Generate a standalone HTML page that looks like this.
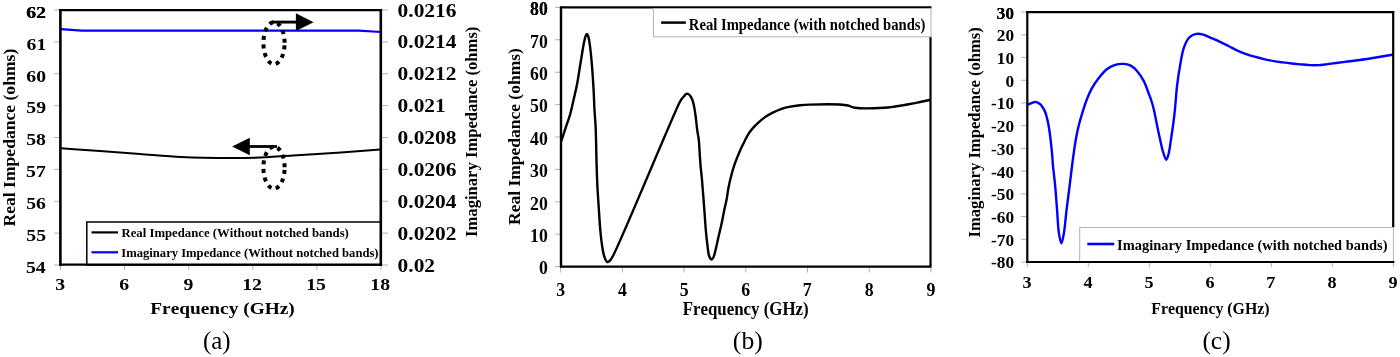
<!DOCTYPE html>
<html><head><meta charset="utf-8"><title>Impedance charts</title>
<style>html,body{margin:0;padding:0;background:#fff;width:1400px;height:357px;overflow:hidden}
svg{display:block;will-change:transform;font-family:"Liberation Serif",serif}
text{font-family:"Liberation Serif",serif;font-kerning:none}</style></head>
<body>
<svg width="1400" height="357" viewBox="0 0 1400 357" font-family="Liberation Serif" style="font-kerning:none">
<line x1="54.00" y1="10.00" x2="60.00" y2="10.00" stroke="#b0b0b0" stroke-width="1.00" />
<line x1="381.00" y1="10.00" x2="388.00" y2="10.00" stroke="#b0b0b0" stroke-width="1.00" />
<line x1="54.00" y1="41.88" x2="60.00" y2="41.88" stroke="#b0b0b0" stroke-width="1.00" />
<line x1="381.00" y1="41.88" x2="388.00" y2="41.88" stroke="#b0b0b0" stroke-width="1.00" />
<line x1="54.00" y1="73.75" x2="60.00" y2="73.75" stroke="#b0b0b0" stroke-width="1.00" />
<line x1="381.00" y1="73.75" x2="388.00" y2="73.75" stroke="#b0b0b0" stroke-width="1.00" />
<line x1="54.00" y1="105.62" x2="60.00" y2="105.62" stroke="#b0b0b0" stroke-width="1.00" />
<line x1="381.00" y1="105.62" x2="388.00" y2="105.62" stroke="#b0b0b0" stroke-width="1.00" />
<line x1="54.00" y1="137.50" x2="60.00" y2="137.50" stroke="#b0b0b0" stroke-width="1.00" />
<line x1="381.00" y1="137.50" x2="388.00" y2="137.50" stroke="#b0b0b0" stroke-width="1.00" />
<line x1="54.00" y1="169.38" x2="60.00" y2="169.38" stroke="#b0b0b0" stroke-width="1.00" />
<line x1="381.00" y1="169.38" x2="388.00" y2="169.38" stroke="#b0b0b0" stroke-width="1.00" />
<line x1="54.00" y1="201.25" x2="60.00" y2="201.25" stroke="#b0b0b0" stroke-width="1.00" />
<line x1="381.00" y1="201.25" x2="388.00" y2="201.25" stroke="#b0b0b0" stroke-width="1.00" />
<line x1="54.00" y1="233.12" x2="60.00" y2="233.12" stroke="#b0b0b0" stroke-width="1.00" />
<line x1="381.00" y1="233.12" x2="388.00" y2="233.12" stroke="#b0b0b0" stroke-width="1.00" />
<line x1="54.00" y1="265.00" x2="60.00" y2="265.00" stroke="#b0b0b0" stroke-width="1.00" />
<line x1="381.00" y1="265.00" x2="388.00" y2="265.00" stroke="#b0b0b0" stroke-width="1.00" />
<line x1="60.50" y1="265.00" x2="60.50" y2="270.00" stroke="#b0b0b0" stroke-width="1.00" />
<line x1="124.60" y1="265.00" x2="124.60" y2="270.00" stroke="#b0b0b0" stroke-width="1.00" />
<line x1="188.70" y1="265.00" x2="188.70" y2="270.00" stroke="#b0b0b0" stroke-width="1.00" />
<line x1="252.80" y1="265.00" x2="252.80" y2="270.00" stroke="#b0b0b0" stroke-width="1.00" />
<line x1="316.90" y1="265.00" x2="316.90" y2="270.00" stroke="#b0b0b0" stroke-width="1.00" />
<line x1="381.00" y1="265.00" x2="381.00" y2="270.00" stroke="#b0b0b0" stroke-width="1.00" />
<path d="M61.00 29.20 L81.70 30.70 L359.00 30.70 L381.00 32.00" fill="none" stroke="#0000ff" stroke-width="2.20" stroke-linejoin="round" stroke-linecap="round"/>
<path d="M61.00 148.30 C74.00 149.20 86.92 150.06 100.00 151.00 C113.25 151.96 126.58 153.01 140.00 154.00 C153.58 155.01 169.44 156.37 181.00 157.00 C189.46 157.46 194.11 157.64 203.00 157.80 C216.66 158.05 239.03 158.28 255.00 157.80 C268.66 157.39 279.59 156.32 293.00 155.50 C308.07 154.57 325.83 153.56 341.00 152.50 C354.68 151.55 367.00 150.50 380.00 149.50" fill="none" stroke="#000" stroke-width="2.00" stroke-linejoin="round" stroke-linecap="round"/>
<rect x="86.80" y="222.00" width="294.20" height="43.00" fill="#fff" stroke="#000" stroke-width="1.50"/>
<line x1="91.50" y1="232.40" x2="118.00" y2="232.40" stroke="#000" stroke-width="2.20" />
<line x1="91.50" y1="252.30" x2="118.00" y2="252.30" stroke="#0000ff" stroke-width="2.20" />
<line x1="60.40" y1="9.10" x2="60.40" y2="265.70" stroke="#000" stroke-width="2.60" />
<line x1="380.80" y1="9.10" x2="380.80" y2="265.70" stroke="#000" stroke-width="2.60" />
<line x1="59.10" y1="10.20" x2="382.10" y2="10.20" stroke="#000" stroke-width="2.20" />
<line x1="59.10" y1="264.60" x2="382.10" y2="264.60" stroke="#000" stroke-width="2.20" />
<line x1="272.00" y1="22.10" x2="297.00" y2="22.10" stroke="#000" stroke-width="2.90" />
<polygon points="295.9,13.2 313.6,22.2 295.9,30.9" fill="#000"/>
<line x1="249.00" y1="146.50" x2="277.00" y2="146.50" stroke="#000" stroke-width="2.80" />
<polygon points="249.8,137.7 232.1,146.4 249.8,155.2" fill="#000"/>
<ellipse cx="274" cy="43.1" rx="10.6" ry="21" fill="none" stroke="#000" stroke-width="4" stroke-dasharray="4 4.6" stroke-dashoffset="6.3"/>
<ellipse cx="274" cy="167.6" rx="10.6" ry="21" fill="none" stroke="#000" stroke-width="4" stroke-dasharray="4 4.6" stroke-dashoffset="6.3"/>
<text transform="translate(26.03 17.53) scale(1.1623 1)" font-size="16.97" font-weight="bold" fill="#000">62</text>
<text transform="translate(26.43 17.73) scale(1.1623 1)" font-size="16.97" font-weight="bold" fill="#000">62</text>
<text transform="translate(26.60 49.61) scale(1.1623 1)" font-size="16.97" font-weight="bold" fill="#000">61</text>
<text transform="translate(26.33 81.53) scale(1.1623 1)" font-size="16.97" font-weight="bold" fill="#000">60</text>
<text transform="translate(26.29 113.36) scale(1.1623 1)" font-size="16.97" font-weight="bold" fill="#000">59</text>
<text transform="translate(26.23 145.28) scale(1.1623 1)" font-size="16.97" font-weight="bold" fill="#000">58</text>
<text transform="translate(26.06 176.99) scale(1.1623 1)" font-size="16.97" font-weight="bold" fill="#000">57</text>
<text transform="translate(26.16 208.98) scale(1.1623 1)" font-size="16.97" font-weight="bold" fill="#000">56</text>
<text transform="translate(26.30 240.74) scale(1.1623 1)" font-size="16.97" font-weight="bold" fill="#000">55</text>
<text transform="translate(25.94 272.67) scale(1.1623 1)" font-size="16.97" font-weight="bold" fill="#000">54</text>
<text transform="translate(397.58 16.54) scale(1.1647 1)" font-size="18.40" font-weight="bold" fill="#000">0.0216</text>
<text transform="translate(397.58 48.46) scale(1.1647 1)" font-size="18.40" font-weight="bold" fill="#000">0.0214</text>
<text transform="translate(397.58 80.34) scale(1.1647 1)" font-size="18.40" font-weight="bold" fill="#000">0.0212</text>
<text transform="translate(397.58 112.21) scale(1.1647 1)" font-size="18.40" font-weight="bold" fill="#000">0.021</text>
<text transform="translate(397.58 144.09) scale(1.1647 1)" font-size="18.40" font-weight="bold" fill="#000">0.0208</text>
<text transform="translate(397.58 175.96) scale(1.1647 1)" font-size="18.40" font-weight="bold" fill="#000">0.0206</text>
<text transform="translate(397.58 207.84) scale(1.1647 1)" font-size="18.40" font-weight="bold" fill="#000">0.0204</text>
<text transform="translate(397.58 239.71) scale(1.1647 1)" font-size="18.40" font-weight="bold" fill="#000">0.0202</text>
<text transform="translate(397.58 271.59) scale(1.1647 1)" font-size="18.40" font-weight="bold" fill="#000">0.02</text>
<text transform="translate(55.14 290.23) scale(1.1623 1)" font-size="16.97" font-weight="bold" fill="#000">3</text>
<text transform="translate(119.22 290.23) scale(1.1623 1)" font-size="16.97" font-weight="bold" fill="#000">6</text>
<text transform="translate(183.46 290.23) scale(1.1623 1)" font-size="16.97" font-weight="bold" fill="#000">9</text>
<text transform="translate(242.17 290.23) scale(1.1623 1)" font-size="16.97" font-weight="bold" fill="#000">12</text>
<text transform="translate(306.21 290.20) scale(1.1623 1)" font-size="16.97" font-weight="bold" fill="#000">15</text>
<text transform="translate(370.28 290.28) scale(1.1623 1)" font-size="16.97" font-weight="bold" fill="#000">18</text>
<text transform="translate(150.27 314.37) scale(1.1323 1)" font-size="17.10" font-weight="bold" fill="#000">Frequency (GHz)</text>
<text transform="translate(15.15 226.50) rotate(-90) scale(1.0852 1)" font-size="16.21" font-weight="bold">Real Impedance (ohms)</text>
<text transform="translate(477.30 236.96) rotate(-90) scale(1.0071 1)" font-size="16.50" font-weight="bold">Imaginary Impedance (ohms)</text>
<text transform="translate(121.48 237.27) scale(1.0576 1)" font-size="12.07" font-weight="bold" fill="#000">Real Impedance (Without notched bands)</text>
<text transform="translate(121.27 256.97) scale(1.0600 1)" font-size="11.91" font-weight="bold" fill="#000">Imaginary Impedance (Without notched bands)</text>
<text transform="translate(202.90 349.34) scale(1.0100 1)" font-size="24.70" font-weight="normal" fill="#000">(a)</text>
<line x1="555.00" y1="7.40" x2="561.00" y2="7.40" stroke="#b0b0b0" stroke-width="1.00" />
<line x1="555.00" y1="39.80" x2="561.00" y2="39.80" stroke="#b0b0b0" stroke-width="1.00" />
<line x1="555.00" y1="72.20" x2="561.00" y2="72.20" stroke="#b0b0b0" stroke-width="1.00" />
<line x1="555.00" y1="104.60" x2="561.00" y2="104.60" stroke="#b0b0b0" stroke-width="1.00" />
<line x1="555.00" y1="137.00" x2="561.00" y2="137.00" stroke="#b0b0b0" stroke-width="1.00" />
<line x1="555.00" y1="169.40" x2="561.00" y2="169.40" stroke="#b0b0b0" stroke-width="1.00" />
<line x1="555.00" y1="201.80" x2="561.00" y2="201.80" stroke="#b0b0b0" stroke-width="1.00" />
<line x1="555.00" y1="234.20" x2="561.00" y2="234.20" stroke="#b0b0b0" stroke-width="1.00" />
<line x1="555.00" y1="266.60" x2="561.00" y2="266.60" stroke="#b0b0b0" stroke-width="1.00" />
<line x1="560.70" y1="266.60" x2="560.70" y2="272.50" stroke="#b0b0b0" stroke-width="1.00" />
<line x1="622.40" y1="266.60" x2="622.40" y2="272.50" stroke="#b0b0b0" stroke-width="1.00" />
<line x1="684.10" y1="266.60" x2="684.10" y2="272.50" stroke="#b0b0b0" stroke-width="1.00" />
<line x1="745.80" y1="266.60" x2="745.80" y2="272.50" stroke="#b0b0b0" stroke-width="1.00" />
<line x1="807.50" y1="266.60" x2="807.50" y2="272.50" stroke="#b0b0b0" stroke-width="1.00" />
<line x1="869.20" y1="266.60" x2="869.20" y2="272.50" stroke="#b0b0b0" stroke-width="1.00" />
<line x1="930.90" y1="266.60" x2="930.90" y2="272.50" stroke="#b0b0b0" stroke-width="1.00" />
<path d="M561.50 140.50 C563.07 135.73 564.70 130.73 566.20 126.20 C567.56 122.10 568.89 118.76 570.10 114.50 C571.52 109.50 572.79 103.28 574.00 98.00 C575.11 93.15 576.13 89.04 577.10 84.00 C578.22 78.16 579.31 70.47 580.20 65.00 C580.88 60.84 581.39 57.62 582.00 54.00 C582.59 50.46 583.15 46.64 583.80 43.50 C584.33 40.92 584.83 38.21 585.50 36.50 C585.92 35.42 586.43 34.00 586.90 34.00 C587.37 34.00 587.90 35.39 588.30 36.50 C588.98 38.39 589.35 41.60 589.80 44.60 C590.35 48.29 590.79 52.81 591.20 57.00 C591.62 61.28 591.94 65.20 592.30 70.00 C592.75 75.95 593.23 83.33 593.60 90.00 C593.97 96.66 594.14 103.71 594.50 110.00 C594.82 115.63 595.33 120.58 595.60 126.00 C595.87 131.58 595.94 136.97 596.10 143.00 C596.28 149.86 596.37 157.59 596.60 165.00 C596.83 172.58 597.11 180.42 597.50 188.00 C597.88 195.42 598.42 202.84 598.90 210.00 C599.36 216.83 599.73 223.82 600.30 230.00 C600.79 235.36 601.31 240.46 602.00 245.00 C602.58 248.82 602.99 252.48 604.00 255.50 C604.83 257.99 605.93 261.59 607.20 262.00 C608.04 262.27 609.13 261.30 610.00 260.50 C611.19 259.40 611.64 258.43 613.20 255.50 C621.45 240.00 672.34 116.81 679.30 103.00 C680.43 100.76 680.67 100.38 681.50 99.20 C682.31 98.05 683.32 96.93 684.20 96.00 C684.95 95.20 685.63 94.19 686.40 93.90 C687.01 93.67 687.70 93.72 688.30 94.00 C689.08 94.36 689.84 95.36 690.50 96.30 C691.30 97.44 692.03 98.97 692.60 100.50 C693.23 102.18 693.56 103.88 694.00 106.00 C694.58 108.83 695.10 112.38 695.60 116.00 C696.19 120.27 696.61 125.73 697.20 130.00 C697.70 133.62 698.40 136.51 698.80 140.00 C699.23 143.81 699.31 147.85 699.60 152.00 C699.91 156.49 700.20 161.34 700.60 166.00 C701.00 170.67 701.57 175.25 702.00 180.00 C702.44 184.91 702.80 189.84 703.20 195.00 C703.63 200.49 704.07 206.25 704.50 212.00 C704.94 217.91 705.29 224.28 705.80 230.00 C706.27 235.23 706.81 240.45 707.40 245.00 C707.89 248.82 708.04 252.88 709.00 255.50 C709.64 257.26 710.66 259.54 711.50 259.60 C712.20 259.65 712.98 258.22 713.60 257.00 C714.63 254.97 715.22 251.17 716.00 248.00 C716.86 244.48 717.62 240.66 718.50 236.80 C719.44 232.67 720.55 228.37 721.50 224.00 C722.49 219.45 723.38 214.38 724.30 210.00 C725.11 206.11 726.03 202.62 726.70 199.00 C727.35 195.52 727.63 192.23 728.30 188.70 C729.01 184.91 729.91 180.89 730.90 177.00 C731.90 173.06 733.16 168.63 734.30 165.20 C735.20 162.49 735.99 160.56 737.00 158.00 C738.18 155.02 739.71 151.19 741.00 148.40 C742.03 146.17 742.96 144.57 744.00 142.50 C745.15 140.22 746.19 137.62 747.60 135.30 C749.05 132.91 750.74 130.58 752.60 128.40 C754.50 126.17 756.75 124.04 758.90 122.10 C760.95 120.25 762.94 118.56 765.20 117.00 C767.56 115.38 770.13 113.94 772.80 112.60 C775.59 111.20 778.63 109.81 781.60 108.80 C784.49 107.82 787.39 107.18 790.40 106.60 C793.51 106.00 796.76 105.63 800.00 105.30 C803.29 104.96 805.77 104.75 810.00 104.60 C817.32 104.33 833.20 104.09 840.00 104.50 C843.53 104.71 845.45 104.93 848.00 105.50 C850.44 106.05 851.82 107.29 855.00 107.80 C861.32 108.81 876.64 108.23 884.00 107.80 C888.55 107.53 891.06 107.06 895.00 106.50 C899.62 105.84 905.51 104.82 910.00 104.00 C913.68 103.33 916.71 102.68 920.00 102.00 C923.21 101.34 926.33 100.67 929.50 100.00" fill="none" stroke="#000" stroke-width="2.40" stroke-linejoin="round" stroke-linecap="round"/>
<line x1="561.00" y1="6.40" x2="561.00" y2="267.60" stroke="#000" stroke-width="2.40" />
<line x1="560.00" y1="266.60" x2="931.50" y2="266.60" stroke="#000" stroke-width="2.20" />
<line x1="560.00" y1="7.40" x2="931.50" y2="7.40" stroke="#000" stroke-width="2.20" />
<line x1="930.50" y1="36.80" x2="930.50" y2="266.60" stroke="#000" stroke-width="2.20" />
<rect x="653.50" y="8.50" width="277.50" height="28.30" fill="#fff" stroke="#b4b4b4" stroke-width="1.00"/>
<line x1="661.10" y1="22.60" x2="685.80" y2="22.60" stroke="#000" stroke-width="2.50" />
<text transform="translate(530.01 15.21) scale(0.9110 1)" font-size="19.50" font-weight="bold" fill="#000">80</text>
<text transform="translate(530.01 15.29) scale(0.9110 1)" font-size="19.50" font-weight="bold" fill="#000">80</text>
<text transform="translate(530.01 47.69) scale(0.9110 1)" font-size="19.50" font-weight="bold" fill="#000">70</text>
<text transform="translate(530.01 80.09) scale(0.9110 1)" font-size="19.50" font-weight="bold" fill="#000">60</text>
<text transform="translate(530.01 112.49) scale(0.9110 1)" font-size="19.50" font-weight="bold" fill="#000">50</text>
<text transform="translate(530.01 144.89) scale(0.9110 1)" font-size="19.50" font-weight="bold" fill="#000">40</text>
<text transform="translate(530.01 177.29) scale(0.9110 1)" font-size="19.50" font-weight="bold" fill="#000">30</text>
<text transform="translate(530.01 209.69) scale(0.9110 1)" font-size="19.50" font-weight="bold" fill="#000">20</text>
<text transform="translate(530.01 242.09) scale(0.9110 1)" font-size="19.50" font-weight="bold" fill="#000">10</text>
<text transform="translate(538.89 274.49) scale(0.9110 1)" font-size="19.50" font-weight="bold" fill="#000">0</text>
<text transform="translate(556.23 296.11) scale(0.9110 1)" font-size="19.50" font-weight="bold" fill="#000">3</text>
<text transform="translate(618.00 296.04) scale(0.9110 1)" font-size="19.50" font-weight="bold" fill="#000">4</text>
<text transform="translate(679.63 295.97) scale(0.9110 1)" font-size="19.50" font-weight="bold" fill="#000">5</text>
<text transform="translate(741.31 296.11) scale(0.9110 1)" font-size="19.50" font-weight="bold" fill="#000">6</text>
<text transform="translate(802.77 295.97) scale(0.9110 1)" font-size="19.50" font-weight="bold" fill="#000">7</text>
<text transform="translate(864.76 296.17) scale(0.9110 1)" font-size="19.50" font-weight="bold" fill="#000">8</text>
<text transform="translate(926.54 296.11) scale(0.9110 1)" font-size="19.50" font-weight="bold" fill="#000">9</text>
<text transform="translate(682.71 315.22) scale(0.9206 1)" font-size="18.33" font-weight="bold" fill="#000">Frequency (GHz)</text>
<text transform="translate(520.05 225.00) rotate(-90) scale(1.0797 1)" font-size="16.21" font-weight="bold">Real Impedance (ohms)</text>
<text transform="translate(688.85 29.54) scale(0.8880 1)" font-size="16.49" font-weight="bold" fill="#000">Real Impedance (with notched bands)</text>
<text transform="translate(732.87 349.34) scale(1.0400 1)" font-size="24.70" font-weight="normal" fill="#000">(b)</text>
<line x1="1021.00" y1="12.10" x2="1027.30" y2="12.10" stroke="#b0b0b0" stroke-width="1.00" />
<line x1="1021.00" y1="34.82" x2="1027.30" y2="34.82" stroke="#b0b0b0" stroke-width="1.00" />
<line x1="1021.00" y1="57.54" x2="1027.30" y2="57.54" stroke="#b0b0b0" stroke-width="1.00" />
<line x1="1021.00" y1="80.25" x2="1027.30" y2="80.25" stroke="#b0b0b0" stroke-width="1.00" />
<line x1="1021.00" y1="102.97" x2="1027.30" y2="102.97" stroke="#b0b0b0" stroke-width="1.00" />
<line x1="1021.00" y1="125.69" x2="1027.30" y2="125.69" stroke="#b0b0b0" stroke-width="1.00" />
<line x1="1021.00" y1="148.41" x2="1027.30" y2="148.41" stroke="#b0b0b0" stroke-width="1.00" />
<line x1="1021.00" y1="171.13" x2="1027.30" y2="171.13" stroke="#b0b0b0" stroke-width="1.00" />
<line x1="1021.00" y1="193.85" x2="1027.30" y2="193.85" stroke="#b0b0b0" stroke-width="1.00" />
<line x1="1021.00" y1="216.56" x2="1027.30" y2="216.56" stroke="#b0b0b0" stroke-width="1.00" />
<line x1="1021.00" y1="239.28" x2="1027.30" y2="239.28" stroke="#b0b0b0" stroke-width="1.00" />
<line x1="1021.00" y1="262.00" x2="1027.30" y2="262.00" stroke="#b0b0b0" stroke-width="1.00" />
<line x1="1027.30" y1="262.00" x2="1027.30" y2="267.00" stroke="#b0b0b0" stroke-width="1.00" />
<line x1="1088.30" y1="262.00" x2="1088.30" y2="267.00" stroke="#b0b0b0" stroke-width="1.00" />
<line x1="1149.30" y1="262.00" x2="1149.30" y2="267.00" stroke="#b0b0b0" stroke-width="1.00" />
<line x1="1210.30" y1="262.00" x2="1210.30" y2="267.00" stroke="#b0b0b0" stroke-width="1.00" />
<line x1="1271.30" y1="262.00" x2="1271.30" y2="267.00" stroke="#b0b0b0" stroke-width="1.00" />
<line x1="1332.30" y1="262.00" x2="1332.30" y2="267.00" stroke="#b0b0b0" stroke-width="1.00" />
<line x1="1393.30" y1="262.00" x2="1393.30" y2="267.00" stroke="#b0b0b0" stroke-width="1.00" />
<path d="M1027.90 104.70 C1028.90 104.27 1029.94 103.80 1030.90 103.40 C1031.77 103.04 1032.59 102.66 1033.40 102.40 C1034.12 102.17 1034.80 101.87 1035.50 101.90 C1036.20 101.93 1036.89 102.26 1037.60 102.60 C1038.42 102.99 1039.32 103.51 1040.10 104.20 C1041.00 104.99 1041.88 106.18 1042.60 107.20 C1043.27 108.15 1043.77 109.02 1044.30 110.10 C1044.92 111.35 1045.51 112.81 1046.00 114.30 C1046.53 115.90 1046.89 117.66 1047.30 119.40 C1047.73 121.22 1048.11 122.91 1048.50 125.00 C1048.99 127.64 1049.47 130.83 1049.90 134.00 C1050.38 137.53 1050.80 141.46 1051.20 145.20 C1051.60 148.93 1052.01 152.91 1052.30 156.40 C1052.56 159.45 1052.59 161.53 1052.90 165.00 C1053.38 170.32 1054.43 178.09 1055.10 185.20 C1055.85 193.13 1056.45 202.22 1057.10 210.40 C1057.72 218.16 1057.92 227.08 1058.90 233.10 C1059.56 237.17 1060.57 243.20 1061.40 243.20 C1062.23 243.20 1063.17 237.17 1063.90 233.10 C1064.99 227.07 1065.56 218.16 1066.50 210.40 C1067.49 202.22 1068.65 193.60 1069.70 185.20 C1070.75 176.80 1071.72 168.01 1072.80 160.00 C1073.79 152.67 1074.78 145.24 1075.90 139.00 C1076.81 133.93 1077.67 129.85 1078.80 125.30 C1079.94 120.71 1081.31 116.05 1082.70 111.60 C1084.05 107.29 1085.43 102.96 1087.00 99.00 C1088.45 95.33 1089.84 91.97 1091.70 88.60 C1093.62 85.13 1095.90 81.70 1098.40 78.50 C1100.93 75.26 1103.79 71.65 1106.80 69.30 C1109.44 67.25 1112.31 65.69 1115.20 64.80 C1117.92 63.96 1120.97 63.75 1123.60 63.90 C1125.97 64.03 1128.19 64.36 1130.30 65.40 C1132.68 66.58 1134.91 68.68 1137.00 71.00 C1139.47 73.74 1141.87 77.43 1143.80 81.10 C1145.84 84.97 1147.44 90.14 1148.80 93.70 C1149.80 96.31 1150.51 98.04 1151.30 100.50 C1152.22 103.34 1153.07 106.38 1153.90 109.80 C1154.89 113.91 1155.75 118.93 1156.70 123.50 C1157.65 128.09 1158.58 132.71 1159.60 137.30 C1160.62 141.88 1161.54 146.98 1162.80 151.00 C1163.84 154.30 1165.25 159.81 1166.30 159.80 C1167.22 159.79 1168.09 155.70 1168.80 153.00 C1169.78 149.24 1170.27 143.95 1171.00 139.20 C1171.77 134.14 1172.63 128.56 1173.30 123.50 C1173.92 118.78 1174.36 115.02 1174.90 109.80 C1175.62 102.86 1176.18 93.20 1177.10 85.50 C1177.94 78.47 1178.92 71.87 1180.10 65.40 C1181.21 59.29 1182.13 52.65 1183.90 47.70 C1185.29 43.82 1186.82 40.12 1189.00 37.80 C1190.76 35.93 1192.96 34.69 1195.20 34.10 C1197.46 33.51 1200.08 33.77 1202.50 34.30 C1205.11 34.87 1207.56 36.43 1210.30 37.60 C1213.36 38.91 1216.85 40.33 1220.00 41.80 C1223.08 43.23 1226.01 44.80 1229.00 46.30 C1231.98 47.80 1234.89 49.46 1237.90 50.80 C1240.86 52.12 1243.88 53.26 1246.90 54.30 C1249.88 55.32 1252.90 56.16 1255.90 57.00 C1258.87 57.83 1261.82 58.62 1264.80 59.30 C1267.78 59.98 1270.79 60.58 1273.80 61.10 C1276.79 61.62 1279.81 62.00 1282.80 62.40 C1285.77 62.80 1288.72 63.17 1291.70 63.50 C1294.69 63.83 1297.70 64.13 1300.70 64.40 C1303.70 64.67 1306.70 64.98 1309.70 65.10 C1312.70 65.22 1315.71 65.27 1318.70 65.10 C1321.68 64.93 1324.14 64.51 1327.60 64.10 C1332.44 63.52 1339.42 62.61 1345.00 61.90 C1350.19 61.24 1354.92 60.72 1360.00 60.00 C1365.25 59.26 1370.64 58.36 1376.00 57.50 C1381.41 56.63 1386.87 55.70 1392.30 54.80" fill="none" stroke="#0000ff" stroke-width="2.40" stroke-linejoin="round" stroke-linecap="round"/>
<line x1="1027.30" y1="11.10" x2="1027.30" y2="263.00" stroke="#000" stroke-width="2.20" />
<line x1="1026.30" y1="262.00" x2="1394.20" y2="262.00" stroke="#000" stroke-width="2.20" />
<line x1="1026.30" y1="12.10" x2="1394.20" y2="12.10" stroke="#000" stroke-width="2.20" />
<line x1="1393.20" y1="11.10" x2="1393.20" y2="227.50" stroke="#000" stroke-width="2.20" />
<rect x="1079.70" y="227.50" width="313.70" height="34.50" fill="#fff" stroke="#b4b4b4" stroke-width="1.00"/>
<line x1="1026.30" y1="262.00" x2="1394.20" y2="262.00" stroke="#000" stroke-width="2.20" />
<line x1="1087.30" y1="244.00" x2="1114.20" y2="244.00" stroke="#0000ff" stroke-width="2.60" />
<text transform="translate(996.55 18.63) scale(1.0157 1)" font-size="17.04" font-weight="bold" fill="#000">30</text>
<text transform="translate(996.75 18.58) scale(1.0157 1)" font-size="17.04" font-weight="bold" fill="#000">30</text>
<text transform="translate(996.75 41.30) scale(1.0157 1)" font-size="17.04" font-weight="bold" fill="#000">20</text>
<text transform="translate(996.75 64.02) scale(1.0157 1)" font-size="17.04" font-weight="bold" fill="#000">10</text>
<text transform="translate(1005.40 86.74) scale(1.0157 1)" font-size="17.04" font-weight="bold" fill="#000">0</text>
<text transform="translate(990.98 109.46) scale(1.0157 1)" font-size="17.04" font-weight="bold" fill="#000">-10</text>
<text transform="translate(990.98 132.17) scale(1.0157 1)" font-size="17.04" font-weight="bold" fill="#000">-20</text>
<text transform="translate(990.98 154.89) scale(1.0157 1)" font-size="17.04" font-weight="bold" fill="#000">-30</text>
<text transform="translate(990.98 177.61) scale(1.0157 1)" font-size="17.04" font-weight="bold" fill="#000">-40</text>
<text transform="translate(990.98 200.33) scale(1.0157 1)" font-size="17.04" font-weight="bold" fill="#000">-50</text>
<text transform="translate(990.98 223.05) scale(1.0157 1)" font-size="17.04" font-weight="bold" fill="#000">-60</text>
<text transform="translate(990.98 245.77) scale(1.0157 1)" font-size="17.04" font-weight="bold" fill="#000">-70</text>
<text transform="translate(990.98 268.48) scale(1.0157 1)" font-size="17.04" font-weight="bold" fill="#000">-80</text>
<text transform="translate(1022.44 287.93) scale(1.0500 1)" font-size="17.27" font-weight="bold" fill="#000">3</text>
<text transform="translate(1083.51 287.86) scale(1.0500 1)" font-size="17.27" font-weight="bold" fill="#000">4</text>
<text transform="translate(1144.44 287.80) scale(1.0500 1)" font-size="17.27" font-weight="bold" fill="#000">5</text>
<text transform="translate(1205.42 287.93) scale(1.0500 1)" font-size="17.27" font-weight="bold" fill="#000">6</text>
<text transform="translate(1266.17 287.80) scale(1.0500 1)" font-size="17.27" font-weight="bold" fill="#000">7</text>
<text transform="translate(1327.47 287.98) scale(1.0500 1)" font-size="17.27" font-weight="bold" fill="#000">8</text>
<text transform="translate(1388.55 287.93) scale(1.0500 1)" font-size="17.27" font-weight="bold" fill="#000">9</text>
<text transform="translate(1151.23 313.84) scale(0.9615 1)" font-size="16.49" font-weight="bold" fill="#000">Frequency (GHz)</text>
<text transform="translate(979.95 237.46) rotate(-90) scale(1.0339 1)" font-size="16.07" font-weight="bold">Imaginary Impedance (ohms)</text>
<text transform="translate(1117.11 250.17) scale(0.9958 1)" font-size="14.51" font-weight="bold" fill="#000">Imaginary Impedance (with notched bands)</text>
<text transform="translate(1202.38 349.34) scale(1.0298 1)" font-size="24.70" font-weight="normal" fill="#000">(c)</text>
</svg>
</body></html>
